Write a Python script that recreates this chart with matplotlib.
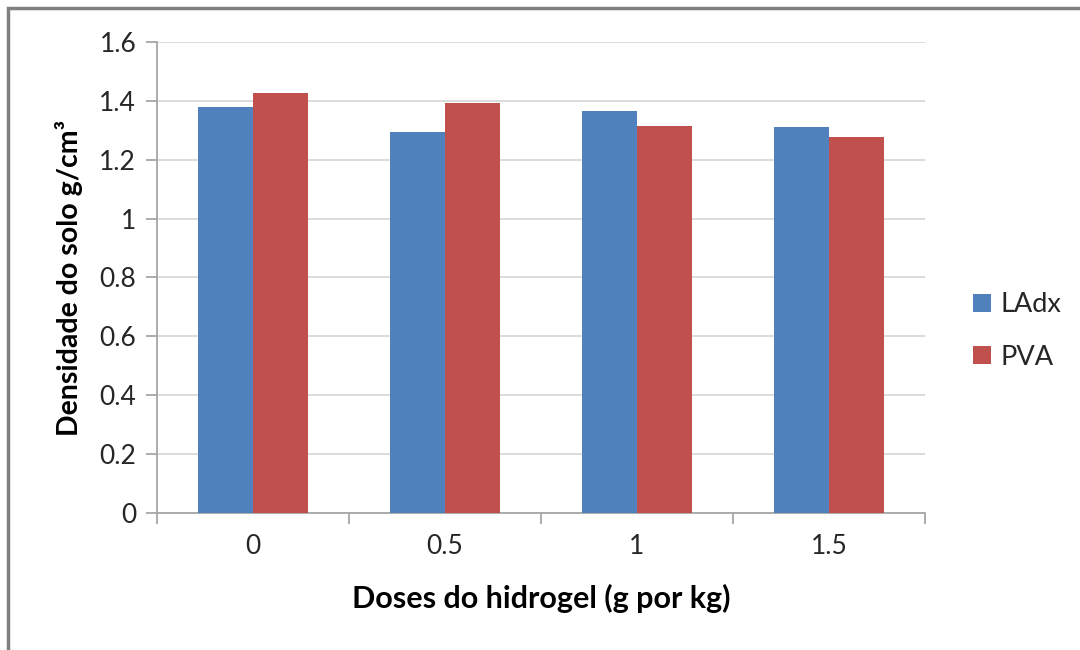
import matplotlib
matplotlib.use("Agg")
import matplotlib.pyplot as plt
from matplotlib.patches import Rectangle
import numpy as np

categories = ["0", "0.5", "1", "1.5"]
ladx = [1.378, 1.295, 1.364, 1.310]
pva = [1.427, 1.393, 1.315, 1.276]
yticks = [0, 0.2, 0.4, 0.6, 0.8, 1, 1.2, 1.4, 1.6]
ytick_labels = ["0", "0.2", "0.4", "0.6", "0.8", "1", "1.2", "1.4", "1.6"]

plt.rcParams['font.family'] = ['Lato', 'DejaVu Sans']

W, H = 1080, 650
fig = plt.figure(figsize=(W / 100, H / 100), dpi=100)
ax = fig.add_axes([157 / W, 1 - 513 / H, (925 - 157) / W, (513 - 42) / H])

blue = "#4F81BD"
red = "#C0504D"
x = np.arange(len(categories))
bw = 1 / 3.5
ax.bar(x - bw / 2, ladx, width=bw, color=blue, label="LAdx", zorder=3)
ax.bar(x + bw / 2, pva, width=bw, color=red, label="PVA", zorder=3)

ax.set_xlim(-0.5, len(categories) - 0.5)
ax.set_ylim(0, 1.6)
ax.set_yticks(yticks)
ax.set_yticklabels(ytick_labels)
ax.set_xticks(x)
ax.set_xticklabels(categories)
ax.set_xticks(np.arange(len(categories) + 1) - 0.5, minor=True)

ax.yaxis.grid(True, color="#D9D9D9", linewidth=1.3, zorder=0)
ax.set_axisbelow(True)
for s in ["top", "right"]:
    ax.spines[s].set_visible(False)
for s in ["left", "bottom"]:
    ax.spines[s].set_color("#A6A6A6")
    ax.spines[s].set_linewidth(1.3)

ax.tick_params(axis="y", which="major", length=8, width=1.3, color="#A6A6A6",
               labelsize=19, labelcolor="#262626", pad=7)
ax.tick_params(axis="x", which="major", length=0, labelsize=19, labelcolor="#262626", pad=15)
ax.tick_params(axis="x", which="minor", length=8, width=1.3, color="#A6A6A6")

ax.set_xlabel("Doses do hidrogel (g por kg)", fontsize=22, fontweight="bold", labelpad=18)
ax.set_ylabel("Densidade do solo g/cm³", fontsize=20.5, fontweight="bold", labelpad=12)

leg = ax.legend(loc="center left", bbox_to_anchor=(949 / W, 1 - 331 / H),
                bbox_transform=fig.transFigure, frameon=False, fontsize=19.5,
                handlelength=0.65, handleheight=0.65, handletextpad=0.35, labelspacing=1.0)
for t in leg.get_texts():
    t.set_color("#262626")

fig.patches.append(Rectangle((8 / W, -0.1), 1.2, 1 - 8 / H + 0.1, transform=fig.transFigure,
                             fill=False, edgecolor="#808080", linewidth=2.5))

fig.savefig("out.png", dpi=100)
